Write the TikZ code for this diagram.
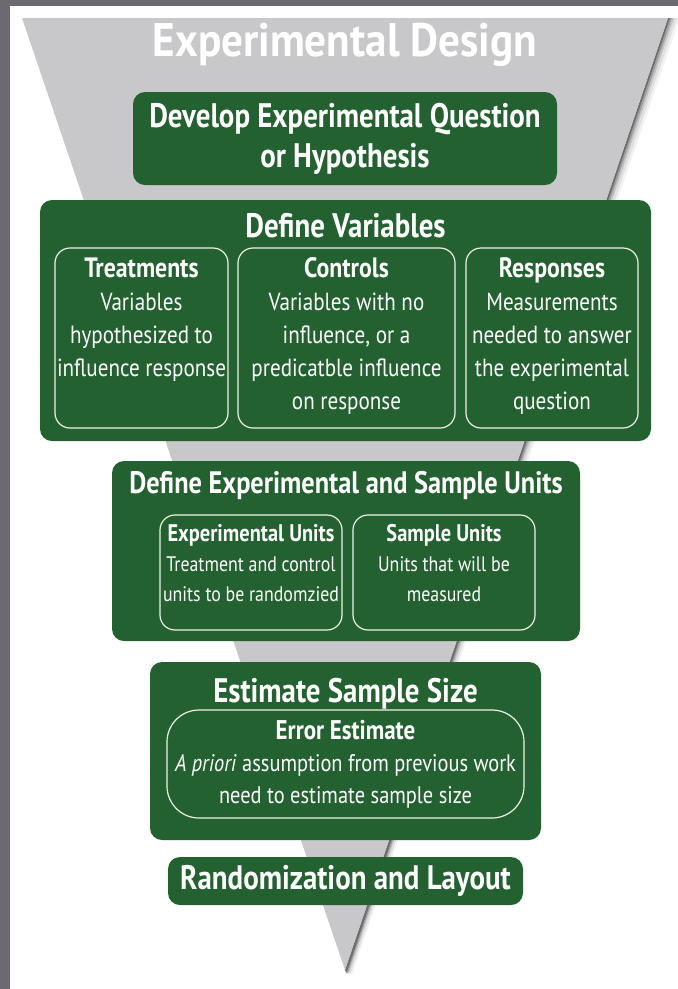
\documentclass[tikz,border=0pt]{standalone}
\usepackage{fontspec}
\setmainfont{PT Sans}[FakeStretch=0.85]
\newfontfamily\titlefont{PT Sans}[FakeStretch=0.92]
\usetikzlibrary{positioning}

\definecolor{boxgreen}{RGB}{35,98,48}
\definecolor{framegray}{RGB}{108,105,112}
\definecolor{funnelgray}{RGB}{200,200,202}
\definecolor{rimwhite}{RGB}{240,240,228}

\newcommand{\subhead}[2]{{\bfseries\fontsize{#1}{33}\selectfont #2}}

\tikzset{
  greenbox/.style={fill=boxgreen, rounded corners=12pt, inner sep=0pt, text=white, align=center},
  subbox/.style={draw=rimwhite, line width=1.2pt, rounded corners=15pt, inner sep=0pt},
  titletext/.style={text=white, inner sep=0pt, font=\titlefont\bfseries\fontsize{47}{50}\selectfont},
  headtext/.style={text=white, inner sep=0pt, align=center, font=\bfseries\fontsize{34}{40}\selectfont},
  subtext/.style={text=white, inner sep=0pt, align=center, font=\fontsize{24.8}{33}\selectfont},
  smalltext/.style={text=white, inner sep=0pt, align=center, font=\fontsize{21}{30}\selectfont}
}

\begin{document}
\begin{tikzpicture}[x=1pt,y=-1pt]
\useasboundingbox (0,0) rectangle (678,989);
\fill[framegray] (0,0) rectangle (678,989);
\fill[white] (10,6) rectangle (678,989);

% funnel with its shadow on the right
\foreach \s/\o in {12/0.05,9/0.08,6/0.12,4/0.18,2/0.3}
  \fill[black,opacity=\o] (668,18) -- (668+\s,18) -- (345+\s*0.6,974) -- (345,970) -- cycle;
\fill[funnelgray] (22,18) -- (668,18) -- (345,970) -- cycle;

\node[titletext] (title) at (345,45) {Experimental Design};

\node[greenbox, headtext, minimum width=424pt, minimum height=93pt] (question) at (345,138.5) {Develop Experimental Question\\or Hypothesis};

% define variables
\node[greenbox, minimum width=611pt, minimum height=241pt] (variables) at (345.5,320.5) {};
\node[headtext, below=13pt of variables.north] (varhead) {Define Variables};
\node[subbox, minimum width=173pt, minimum height=180pt] (treat) at (141.5,338) {};
\node[subbox, minimum width=217pt, minimum height=180pt] (contr) at (346.5,338) {};
\node[subbox, minimum width=172pt, minimum height=180pt] (resp) at (552,338) {};
\node[subtext, below=10pt of treat.north] {\subhead{28}{Treatments}\\Variables\\hypothesized to\\influence response};
\node[subtext, below=10pt of contr.north] {\subhead{28}{Controls}\\Variables with no\\influence, or a\\predicatble influence\\on response};
\node[subtext, below=10pt of resp.north] {\subhead{28}{Responses}\\Measurements\\needed to answer\\the experimental\\question};

% units
\node[greenbox, minimum width=468pt, minimum height=180pt] (units) at (346,551) {};
\node[headtext, font=\bfseries\fontsize{31}{40}\selectfont, below=10pt of units.north] (unithead) {Define Experimental and Sample Units};
\node[subbox, minimum width=182pt, minimum height=115pt] (expunit) at (251,572.5) {};
\node[subbox, minimum width=182pt, minimum height=115pt] (sampunit) at (444,572.5) {};
\node[smalltext, below=10pt of expunit.north] {\subhead{24}{Experimental Units}\\Treatment and control\\units to be randomzied};
\node[smalltext, below=10pt of sampunit.north] {\subhead{24}{Sample Units}\\Units that will be\\measured};

% sample size
\node[greenbox, minimum width=391pt, minimum height=178pt] (size) at (345.5,751) {};
\node[headtext, below=16pt of size.north] (sizehead) {Estimate Sample Size};
\node[subbox, rounded corners=32pt, minimum width=357pt, minimum height=108pt] (error) at (345.5,764) {};
\node[subtext, font=\fontsize{24}{32}\selectfont, below=11pt of error.north] {\subhead{27}{Error Estimate}\\\textit{A priori} assumption from previous work\\need to estimate sample size};

\node[greenbox, headtext, minimum width=355pt, minimum height=48pt] (layout) at (345.5,881) {Randomization and Layout};
\end{tikzpicture}
\end{document}
